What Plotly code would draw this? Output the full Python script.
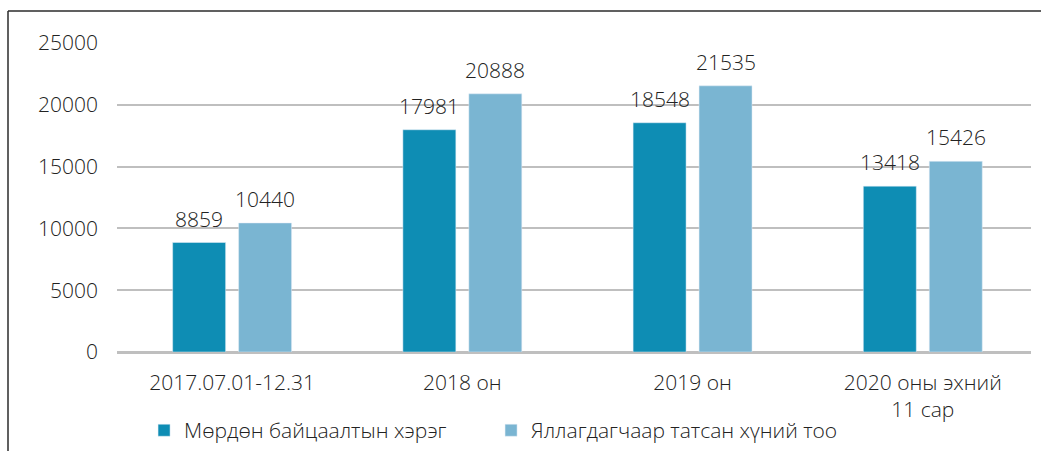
import plotly.graph_objects as go

categories = ["2017.07.01-12.31", "2018 он", "2019 он", "2020 оны эхний<br>11 сар"]
series_names = ["Мөрдөн байцаалтын хэрэг", "Яллагдагчаар татсан хүний тоо"]
cases = [8859, 17981, 18548, 13418]
persons = [10440, 20888, 21535, 15426]
tick_vals = [0, 5000, 10000, 15000, 20000, 25000]
tick_text = ["0", "5000", "10000", "15000", "20000", "25000"]

colors = ["#0E8DB4", "#7AB5D2"]
FONT = "Open Sans"
TXT = "#222222"
FS = 21

fig = go.Figure()
for name, vals, col in zip(series_names, [cases, persons], colors):
    fig.add_trace(go.Bar(x=categories, y=vals, name=name, marker_color=col))

# value labels above bars
for vals, shift in zip([cases, persons], [-33, 33]):
    for c, v in zip(categories, vals):
        fig.add_annotation(x=c, y=v, text=str(v), showarrow=False, xshift=shift,
                           yanchor="bottom", yshift=8,
                           font=dict(size=FS, color=TXT, family=FONT, weight=300))

# frame (top and left edges visible)
L, T = 117, 11
W, H = 914, 309
px0 = (8 - L) / W
py0 = (352 - T) / H
fig.add_shape(type="line", xref="paper", yref="paper", x0=px0, x1=1.2, y0=py0, y1=py0,
              line=dict(color="#2b2b2b", width=1.5))
fig.add_shape(type="line", xref="paper", yref="paper", x0=px0, x1=px0, y0=py0, y1=-0.5,
              line=dict(color="#2b2b2b", width=1.5))

fig.update_layout(
    width=1041, height=451,
    margin=dict(l=117, r=10, t=43, b=99, autoexpand=False),
    paper_bgcolor="white", plot_bgcolor="white",
    barmode="group", bargap=0.427, bargroupgap=0.197,
    font=dict(family=FONT, size=FS, color=TXT, weight=300),
    showlegend=True,
    legend=dict(orientation="h", x=0.0296, y=-0.188, xanchor="left", yanchor="top",
                font=dict(size=FS, color=TXT, family=FONT, weight=300), itemwidth=30,
                entrywidth=302, tracegroupgap=0),
    xaxis=dict(range=[-0.5, 3.47], showgrid=False, showline=False, ticks="", automargin=False,
               ticklabelstandoff=16,
               tickfont=dict(size=FS, color=TXT, family=FONT, weight=300)),
    yaxis=dict(range=[0, 25000], tickvals=tick_vals, ticktext=tick_text, showgrid=True,
               gridcolor="#BFBFBF", automargin=False,
               gridwidth=1.5, zeroline=True, zerolinecolor="#BFBFBF", zerolinewidth=2.5,
               showline=False, ticks="", ticklabelstandoff=18,
               tickfont=dict(size=FS, color=TXT, family=FONT, weight=300)),
)

fig.write_html("out.html", config={"displayModeBar": False},
               post_script="document.body.style.margin='0';")
